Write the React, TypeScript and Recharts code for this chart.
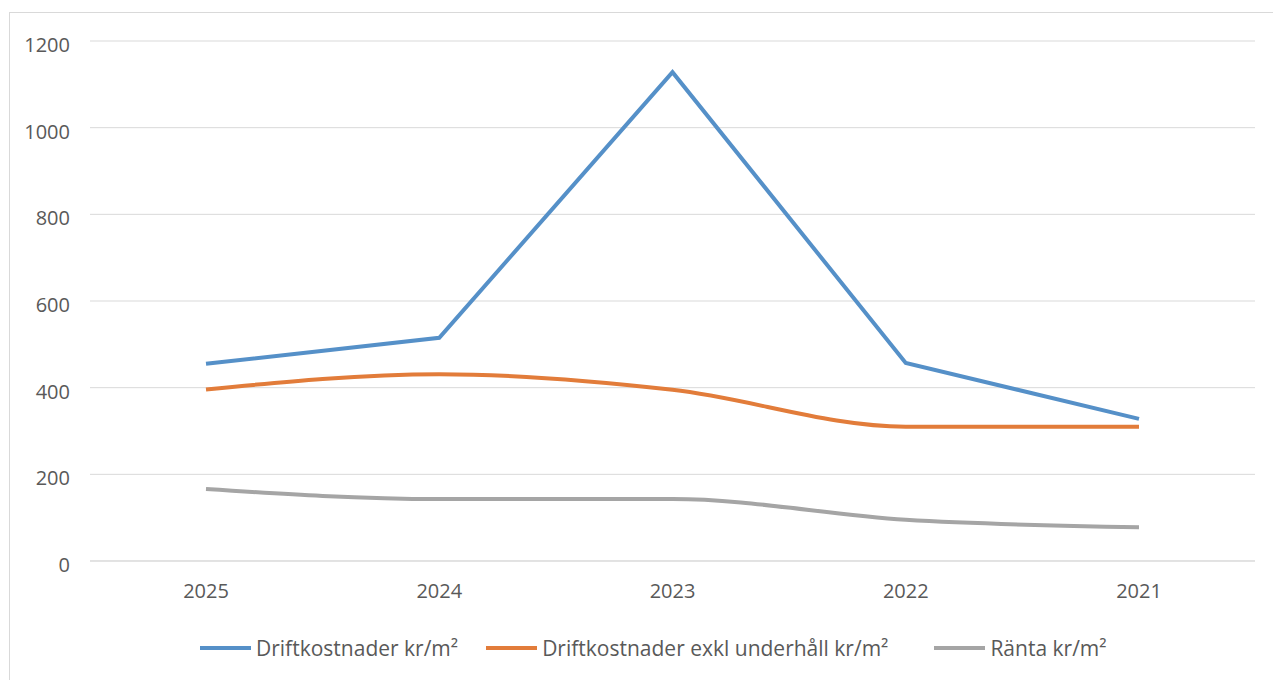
import { CartesianGrid, Legend, Line, LineChart, XAxis, YAxis } from "recharts";

const years = ["2025", "2024", "2023", "2022", "2021"];
const driftkostnader = [455, 515, 1128, 457, 328];
const driftExklUnderhall = [396, 431, 395, 310, 310];
const ranta = [166, 143, 143, 95, 78];
const yTicks = [0, 200, 400, 600, 800, 1000, 1200];

const series = [
  { key: "drift", name: "Driftkostnader kr/m²", color: "#5590c8", type: "linear" as const, gap: 0 },
  { key: "exkl", name: "Driftkostnader exkl underhåll kr/m²", color: "#e27c3a", type: "monotone" as const, gap: 28 },
  { key: "ranta", name: "Ränta kr/m²", color: "#a5a5a5", type: "monotone" as const, gap: 46 },
];

const data = years.map((year, i) => ({
  year,
  drift: driftkostnader[i],
  exkl: driftExklUnderhall[i],
  ranta: ranta[i],
}));

const font = "'Open Sans', sans-serif";

function LegendContent() {
  return (
    <div style={{ display: "flex", fontFamily: font, fontSize: 21, color: "#595959", height: 24, alignItems: "center", paddingLeft: 200 }}>
      {series.map((s) => (
        <div key={s.key} style={{ display: "flex", alignItems: "center", marginLeft: s.gap, whiteSpace: "nowrap" }}>
          <span style={{ display: "inline-block", width: 51, height: 4, background: s.color, marginRight: 5 }} />
          <span>{s.name}</span>
        </div>
      ))}
    </div>
  );
}

export default function App() {
  return (
    <div style={{ position: "absolute", left: 0, top: 0, width: 1273, height: 680, background: "#fff", overflow: "hidden" }}>
      <div style={{ position: "absolute", left: 9, top: 12, width: 1300, height: 700, borderTop: "1px solid #d9d9d9", borderLeft: "1px solid #d9d9d9" }} />
      <LineChart width={1273} height={680} data={data} margin={{ top: 41, right: 18, bottom: 20, left: 0 }} style={{ position: "absolute", left: 0, top: 0 }}>
        <CartesianGrid vertical={false} stroke="#d9d9d9" strokeWidth={1} />
        <XAxis
          dataKey="year"
          height={75}
          padding={{ left: 116, right: 116 }}
          tickLine={false}
          tickSize={0}
          tickMargin={23}
          axisLine={{ stroke: "#d9d9d9" }}
          tick={{ fill: "#595959", fontSize: 20, fontFamily: font }}
        />
        <YAxis
          width={90}
          domain={[0, 1200]}
          ticks={yTicks}
          axisLine={false}
          tickLine={false}
          tickSize={0}
          tickMargin={20}
          tick={{ fill: "#595959", fontSize: 20, fontFamily: font, dy: 4 }}
        />
        <Legend verticalAlign="bottom" height={24} content={<LegendContent />} />
        {series.map((s) => (
          <Line
            key={s.key}
            dataKey={s.key}
            name={s.name}
            type={s.type}
            stroke={s.color}
            strokeWidth={4}
            dot={false}
            isAnimationActive={false}
          />
        ))}
      </LineChart>
    </div>
  );
}
